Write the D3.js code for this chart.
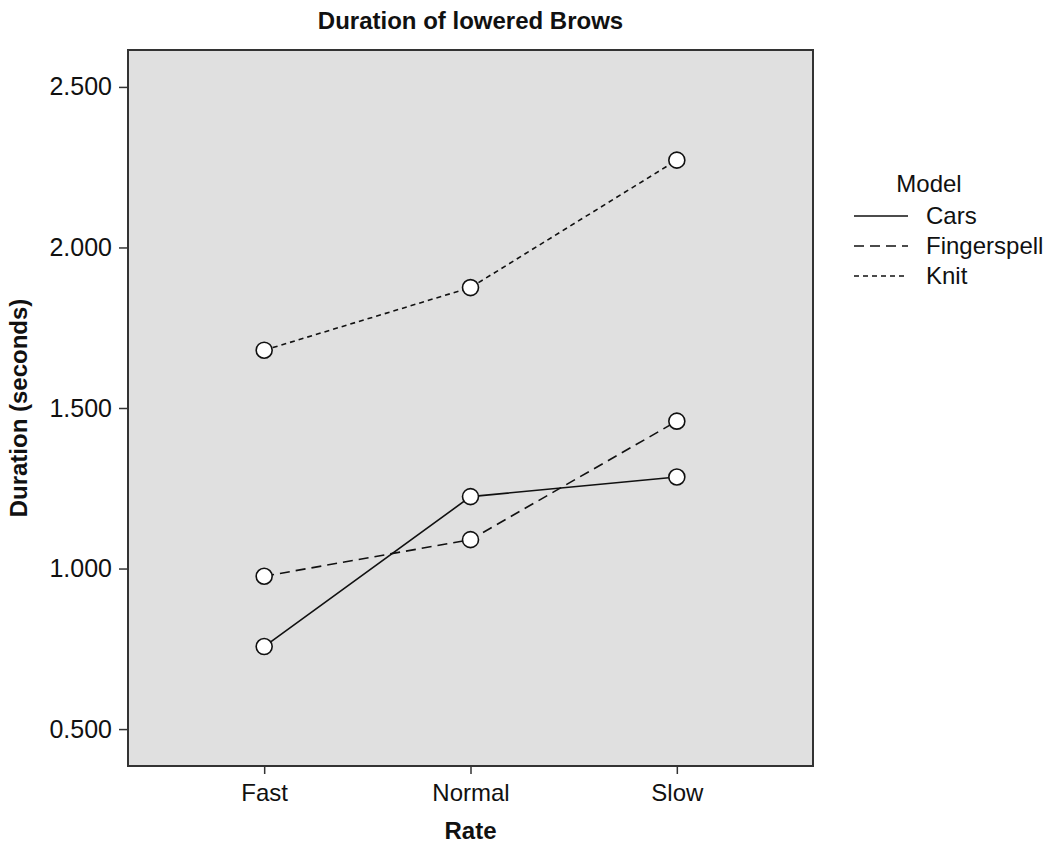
<!DOCTYPE html>
<html>
<head>
<meta charset="utf-8">
<script src="https://cdn.jsdelivr.net/npm/d3@7"></script>
<style>
  body { margin: 0; background: #fff; }
  svg { font-family: "Liberation Sans", Arial, sans-serif; }
</style>
</head>
<body>
<svg id="chart" width="1050" height="856"></svg>
<script>
// ===== DATA =====
const rates = ['Fast', 'Normal', 'Slow'];
const models = ['Cars', 'Fingerspell', 'Knit'];
const carsValues = [0.757, 1.224, 1.285];
const fingerspellValues = [0.976, 1.090, 1.459];
const knitValues = [1.680, 1.875, 2.272];
const yTicks = [0.5, 1.0, 1.5, 2.0, 2.5];

const seriesValues = [carsValues, fingerspellValues, knitValues];
const dashes = { Cars: null, Fingerspell: '10,6', Knit: '5,4' };

const svg = d3.select('#chart');
const margin = { top: 50, right: 237, bottom: 90, left: 128 };
const width = 1050, height = 856;
const innerWidth = width - margin.left - margin.right;
const innerHeight = height - margin.top - margin.bottom;

const x = d3.scalePoint().domain(rates).range([0, innerWidth]).padding(0.66);
const y = d3.scaleLinear().domain([0.385, 2.615]).range([innerHeight, 0]);

const g = svg.append('g').attr('transform', `translate(${margin.left},${margin.top})`);

g.append('rect')
    .attr('width', innerWidth)
    .attr('height', innerHeight)
    .attr('fill', '#e0e0e0');

// axes
const yAxisG = g.append('g')
    .call(d3.axisLeft(y).tickValues(yTicks).tickFormat(d3.format('.3f')).tickSize(9).tickPadding(7));
const xAxisG = g.append('g')
    .attr('transform', `translate(0,${innerHeight})`)
    .call(d3.axisBottom(x).tickSize(8).tickPadding(10));

[xAxisG, yAxisG].forEach(ax => {
    ax.select('.domain').remove();
    ax.selectAll('line').attr('stroke', '#333').attr('stroke-width', 1.5);
    ax.selectAll('text').attr('fill', '#111').style('font-size', '24px');
});
yAxisG.selectAll('text').style('font-size', '25px');

g.append('rect')
    .attr('width', innerWidth)
    .attr('height', innerHeight)
    .attr('fill', 'none')
    .attr('stroke', '#333')
    .attr('stroke-width', 2);

// lines
const line = d3.line().x((d, i) => x(rates[i])).y(d => y(d));

models.forEach((m, k) => {
    g.append('path')
        .datum(seriesValues[k])
        .attr('d', line)
        .attr('fill', 'none')
        .attr('stroke', '#111')
        .attr('stroke-width', 1.6)
        .attr('stroke-dasharray', dashes[m]);
});

models.forEach((m, k) => {
    g.selectAll(`.pt-${m}`)
        .data(seriesValues[k])
        .join('circle')
        .attr('cx', (d, i) => x(rates[i]))
        .attr('cy', d => y(d))
        .attr('r', 8)
        .attr('fill', '#fff')
        .attr('stroke', '#111')
        .attr('stroke-width', 1.6);
});

// titles
svg.append('text')
    .attr('x', margin.left + innerWidth / 2)
    .attr('y', 29)
    .attr('text-anchor', 'middle')
    .style('font-size', '24px')
    .style('font-weight', 'bold')
    .attr('fill', '#111')
    .text('Duration of lowered Brows');

svg.append('text')
    .attr('x', margin.left + innerWidth / 2)
    .attr('y', 839)
    .attr('text-anchor', 'middle')
    .style('font-size', '24px')
    .style('font-weight', 'bold')
    .attr('fill', '#111')
    .text('Rate');

svg.append('text')
    .attr('transform', `translate(27,${margin.top + innerHeight / 2}) rotate(-90)`)
    .attr('text-anchor', 'middle')
    .style('font-size', '24px')
    .style('font-weight', 'bold')
    .attr('fill', '#111')
    .text('Duration (seconds)');

// legend
const legend = svg.append('g').attr('transform', 'translate(854,0)');
legend.append('text')
    .attr('x', 75)
    .attr('y', 192)
    .attr('text-anchor', 'middle')
    .style('font-size', '24px')
    .attr('fill', '#111')
    .text('Model');

models.forEach((m, k) => {
    const ly = 216 + k * 30;
    legend.append('line')
        .attr('x1', 0).attr('x2', 54)
        .attr('y1', ly).attr('y2', ly)
        .attr('stroke', '#111')
        .attr('stroke-width', 1.6)
        .attr('stroke-dasharray', dashes[m]);
    legend.append('text')
        .attr('x', 72)
        .attr('y', ly + 8)
        .style('font-size', '24px')
        .attr('fill', '#111')
        .text(m);
});
</script>
</body>
</html>
